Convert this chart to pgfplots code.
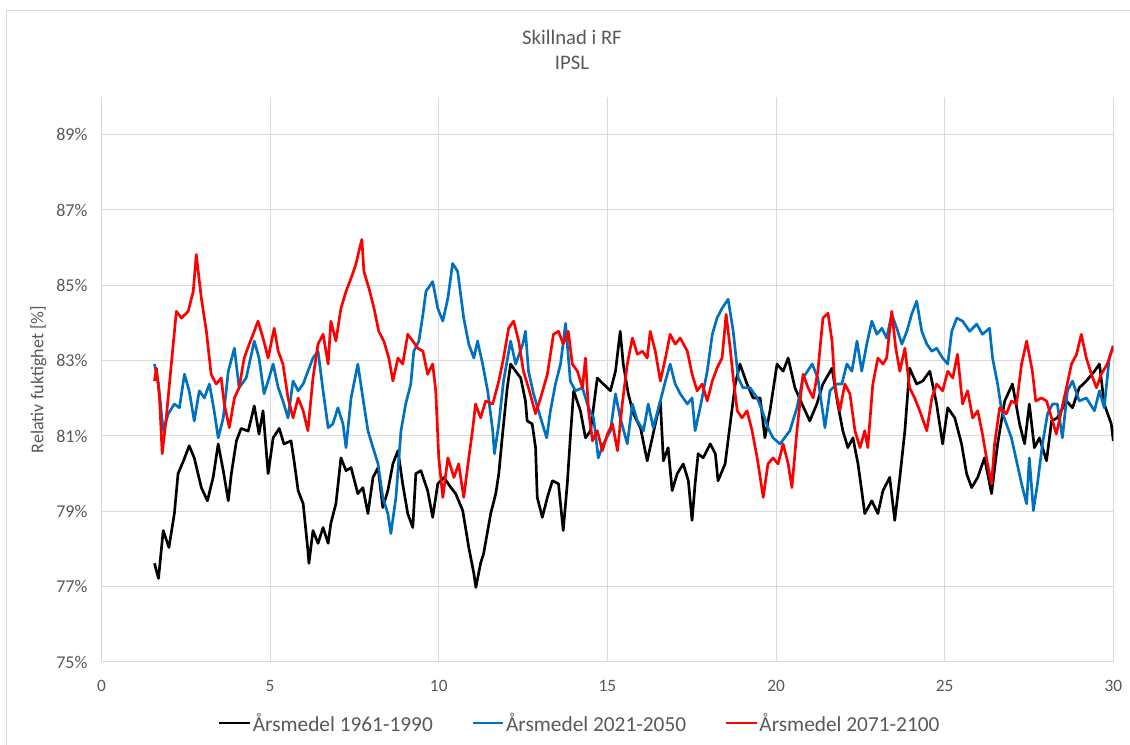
\documentclass[border=0pt]{standalone}
\usepackage{fontspec}
\setmainfont{Carlito}
\usepackage{pgfplots}
\pgfplotsset{compat=1.18}
\definecolor{tickgray}{HTML}{595959}
\definecolor{gridgray}{HTML}{D9D9D9}
\definecolor{xlblue}{HTML}{0070C0}
\definecolor{xlred}{HTML}{FF0000}
\pgfplotstableread{
x y
1.57 77.62
1.69 77.22
1.83 78.49
2.0 78.04
2.16 78.94
2.27 80.0
2.43 80.34
2.6 80.74
2.75 80.42
2.96 79.63
3.14 79.28
3.31 79.9
3.46 80.79
3.61 80.08
3.76 79.28
3.85 80.0
4.0 80.87
4.14 81.2
4.35 81.13
4.53 81.8
4.67 81.05
4.79 81.67
4.94 80.0
5.09 80.95
5.27 81.2
5.41 80.79
5.62 80.87
5.71 80.34
5.83 79.55
5.98 79.2
6.12 77.96
6.15 77.62
6.27 78.49
6.42 78.15
6.57 78.57
6.72 78.15
6.8 78.68
6.95 79.2
7.1 80.42
7.25 80.08
7.4 80.16
7.6 79.47
7.75 79.63
7.9 78.94
8.05 79.9
8.2 80.16
8.34 79.1
8.49 79.55
8.64 80.26
8.79 80.61
8.93 79.73
9.08 78.94
9.23 78.57
9.32 80.0
9.47 80.08
9.67 79.55
9.82 78.84
9.97 79.73
10.15 79.9
10.36 79.63
10.5 79.47
10.71 79.02
10.89 78.04
11.04 77.35
11.1 76.98
11.24 77.62
11.33 77.88
11.54 78.94
11.69 79.47
11.78 80.0
11.88 80.95
12.03 82.28
12.13 82.91
12.28 82.72
12.43 82.54
12.57 81.93
12.62 81.4
12.77 81.32
12.87 80.69
12.92 79.37
13.07 78.84
13.22 79.37
13.37 79.81
13.55 79.73
13.69 78.49
13.81 79.73
13.9 80.95
14.0 82.2
14.2 81.67
14.35 80.95
14.5 81.14
14.7 82.54
14.88 82.38
15.09 82.2
15.24 82.72
15.38 83.78
15.47 82.91
15.62 82.12
15.77 81.59
15.98 81.22
16.18 80.34
16.33 80.95
16.57 81.93
16.66 80.34
16.8 80.69
16.92 79.55
17.07 80.0
17.25 80.26
17.4 79.81
17.51 78.76
17.6 79.73
17.69 80.53
17.84 80.42
18.05 80.79
18.2 80.53
18.28 79.81
18.49 80.26
18.64 81.32
18.79 82.38
18.93 82.91
19.14 82.38
19.32 82.01
19.53 82.01
19.67 80.95
19.82 81.67
20.03 82.91
20.21 82.72
20.36 83.07
20.56 82.28
20.77 81.85
21.0 81.4
21.21 81.85
21.39 82.38
21.66 82.8
21.83 81.85
21.98 81.14
22.13 80.69
22.28 80.95
22.43 80.26
22.54 79.55
22.63 78.94
22.84 79.28
23.02 78.94
23.17 79.55
23.37 79.9
23.52 78.76
23.67 79.9
23.82 81.14
23.96 82.8
24.17 82.38
24.35 82.46
24.56 82.72
24.76 81.85
24.94 80.79
25.09 81.75
25.3 81.48
25.5 80.79
25.65 80.0
25.8 79.63
25.98 79.9
26.18 80.42
26.39 79.47
26.57 80.79
26.78 81.93
27.01 82.38
27.22 81.32
27.37 80.79
27.51 81.85
27.66 80.69
27.81 80.95
28.02 80.34
28.17 81.4
28.34 81.48
28.61 81.93
28.79 81.75
28.99 82.28
29.2 82.46
29.44 82.72
29.59 82.91
29.73 81.85
29.94 81.32
30.0 80.87
}\blackdata
\pgfplotstableread{
x y
1.57 82.91
1.69 82.38
1.83 81.14
1.98 81.59
2.16 81.85
2.31 81.75
2.46 82.64
2.6 82.2
2.75 81.4
2.9 82.2
3.05 82.01
3.2 82.38
3.34 81.67
3.46 80.95
3.61 81.48
3.76 82.72
3.94 83.33
4.08 82.28
4.29 82.54
4.53 83.52
4.67 83.07
4.82 82.12
4.94 82.46
5.09 82.91
5.24 82.28
5.38 81.93
5.53 81.48
5.68 82.46
5.83 82.2
5.98 82.38
6.12 82.72
6.27 83.07
6.42 83.25
6.57 82.2
6.72 81.22
6.86 81.32
7.01 81.75
7.16 81.32
7.25 80.69
7.4 82.01
7.6 82.91
7.75 82.01
7.9 81.14
8.05 80.69
8.2 80.26
8.34 79.37
8.49 78.94
8.58 78.41
8.73 79.37
8.88 81.14
9.02 81.85
9.17 82.38
9.26 83.25
9.41 83.52
9.53 84.23
9.62 84.84
9.82 85.1
9.97 84.39
10.12 84.05
10.27 84.66
10.41 85.58
10.56 85.37
10.74 84.13
10.89 83.44
11.04 83.07
11.15 83.52
11.3 82.91
11.45 82.2
11.6 81.14
11.65 80.53
11.78 81.32
11.92 82.46
12.13 83.52
12.28 82.91
12.49 83.44
12.57 83.78
12.66 82.72
12.81 82.12
13.02 81.48
13.2 80.95
13.31 81.67
13.46 82.38
13.61 82.91
13.76 83.99
13.9 82.46
14.05 82.2
14.26 82.28
14.44 81.75
14.59 81.48
14.73 80.42
14.88 80.79
15.09 81.14
15.24 82.12
15.38 81.48
15.59 80.79
15.74 81.85
15.89 81.4
16.07 81.14
16.21 81.85
16.36 81.22
16.57 81.93
16.72 82.46
16.86 82.91
17.01 82.38
17.16 82.12
17.37 81.85
17.51 82.01
17.6 81.14
17.75 81.75
17.96 82.72
18.11 83.7
18.25 84.13
18.4 84.39
18.58 84.63
18.73 83.78
18.88 82.54
19.02 82.28
19.23 82.28
19.44 82.01
19.59 81.67
19.76 81.22
19.91 80.95
20.12 80.79
20.41 81.14
20.62 81.75
20.8 82.54
21.07 82.91
21.24 82.54
21.45 81.22
21.6 82.2
21.8 82.38
21.95 82.38
22.1 82.91
22.25 82.72
22.4 83.52
22.54 82.72
22.69 83.44
22.84 84.05
22.99 83.7
23.14 83.86
23.28 83.6
23.43 84.23
23.58 83.86
23.73 83.44
23.88 83.78
24.02 84.23
24.17 84.58
24.32 83.78
24.47 83.44
24.62 83.25
24.76 83.33
24.94 83.07
25.09 82.91
25.21 83.78
25.36 84.13
25.53 84.05
25.74 83.78
25.95 83.97
26.12 83.7
26.33 83.86
26.42 83.07
26.57 82.38
26.69 81.67
26.83 81.32
26.98 80.95
27.13 80.34
27.28 79.73
27.43 79.2
27.51 80.42
27.63 79.02
27.75 79.73
27.9 80.79
28.05 81.59
28.2 81.85
28.34 81.85
28.49 80.95
28.64 82.2
28.79 82.46
28.99 81.93
29.2 82.01
29.44 81.67
29.59 82.2
29.73 81.75
29.88 83.07
30.0 83.39
}\bluedata
\pgfplotstableread{
x y
1.57 82.46
1.63 82.8
1.72 82.01
1.8 80.53
1.92 81.48
2.07 82.91
2.22 84.31
2.37 84.13
2.57 84.31
2.72 84.84
2.81 85.82
2.96 84.66
3.11 83.78
3.25 82.64
3.4 82.38
3.55 82.54
3.64 81.85
3.79 81.22
3.94 82.01
4.08 82.28
4.23 83.07
4.38 83.44
4.53 83.78
4.64 84.05
4.79 83.6
4.94 83.07
5.12 83.86
5.24 83.25
5.38 82.91
5.53 82.01
5.68 81.48
5.83 82.01
5.98 81.67
6.12 81.14
6.27 82.54
6.42 83.44
6.57 83.7
6.72 82.91
6.8 84.05
6.95 83.52
7.1 84.39
7.25 84.84
7.4 85.19
7.54 85.55
7.63 85.9
7.72 86.22
7.78 85.37
7.93 84.92
8.08 84.39
8.22 83.78
8.37 83.52
8.52 83.07
8.64 82.46
8.79 83.07
8.93 82.91
9.08 83.7
9.23 83.52
9.38 83.33
9.53 83.25
9.67 82.64
9.82 82.91
9.91 82.2
10.0 80.42
10.12 79.37
10.27 80.42
10.45 79.9
10.59 80.26
10.74 79.37
10.89 80.42
11.0 81.14
11.09 81.85
11.24 81.48
11.39 81.93
11.6 81.85
11.78 82.46
11.92 83.07
12.07 83.86
12.22 84.05
12.37 83.52
12.51 82.72
12.66 82.28
12.87 81.59
13.02 82.01
13.22 82.64
13.4 83.7
13.55 83.78
13.69 83.44
13.84 83.78
13.96 82.91
14.11 82.72
14.26 82.28
14.35 83.07
14.44 81.67
14.56 80.87
14.7 81.14
14.85 80.61
15.0 81.05
15.15 81.32
15.3 80.61
15.44 81.85
15.59 82.91
15.74 83.6
15.89 83.17
16.04 83.25
16.18 83.07
16.27 83.78
16.42 83.25
16.57 82.46
16.72 83.07
16.86 83.7
17.01 83.44
17.16 83.6
17.37 83.25
17.51 82.64
17.66 82.2
17.81 82.38
17.96 81.93
18.11 82.46
18.25 82.8
18.4 83.07
18.52 84.23
18.64 83.33
18.73 82.54
18.85 81.67
18.99 81.48
19.14 81.67
19.29 81.14
19.44 80.42
19.53 79.9
19.62 79.37
19.76 80.26
19.91 80.42
20.06 80.26
20.21 80.79
20.36 80.26
20.47 79.63
20.62 81.14
20.8 82.64
20.95 82.28
21.1 82.01
21.24 82.72
21.39 84.13
21.54 84.26
21.66 83.52
21.75 82.28
21.89 81.67
22.04 82.38
22.19 82.12
22.34 81.14
22.49 80.69
22.63 81.14
22.72 80.69
22.87 82.38
23.02 83.07
23.17 82.91
23.28 83.07
23.43 84.31
23.55 83.33
23.67 82.72
23.82 83.33
23.96 82.28
24.11 82.01
24.26 81.67
24.47 81.14
24.62 82.01
24.76 82.38
24.94 82.2
25.09 82.72
25.24 82.54
25.38 83.17
25.53 81.85
25.68 82.2
25.83 81.48
25.98 81.67
26.12 81.05
26.27 80.26
26.39 79.73
26.48 80.79
26.63 81.75
26.83 81.59
26.98 81.93
27.13 81.85
27.28 82.91
27.43 83.52
27.6 82.72
27.7 81.93
27.87 82.01
28.02 81.93
28.17 81.48
28.31 81.05
28.46 81.67
28.61 82.28
28.76 82.91
28.91 83.17
29.05 83.7
29.2 83.07
29.35 82.64
29.5 82.28
29.64 82.64
29.82 82.91
30.0 83.39
}\reddata
\begin{document}
\begin{tikzpicture}[x=1pt,y=1pt]
\useasboundingbox (0,0) rectangle (847.5,558.75);
\fill[white] (0,0) rectangle (847.5,558.75);
\draw[gridgray, line width=0.75pt] (5,0) -- (5,550.7) -- (847.5,550.7);
\node[anchor=base, text=tickgray, font=\fontsize{15.5}{18}\selectfont] at (429,525) {Skillnad i RF};
\node[anchor=base, text=tickgray, font=\fontsize{15.5}{18}\selectfont] at (429,506.25) {IPSL};
\node[rotate=90, text=tickgray, font=\fontsize{13.5}{16}\selectfont] at (28.9,274.1) {Relativ fuktighet [\%]};
\begin{axis}[
  at={(76.125pt,62.25pt)}, anchor=south west,
  width=758.85pt, height=423.75pt, scale only axis,
  xmin=0, xmax=30, ymin=75, ymax=90,
  xtick={0,5,...,30}, ytick={75,77,...,89},
  grid=major, major grid style={gridgray, line width=0.75pt},
  axis lines*=left,
  x axis line style={gridgray, line width=0.75pt},
  y axis line style={draw=none},
  major tick length=0pt,
  /pgf/number format/assume math mode=true,
  xticklabel style={font=\fontsize{13}{15}\selectfont, text=tickgray, yshift=-10pt},
  yticklabel style={font=\fontsize{13.5}{15}\selectfont, text=tickgray, xshift=-7pt},
  yticklabel={\pgfmathprintnumber{\tick}\%},
  legend columns=3,
  legend cell align=left,
  legend style={at={(axis description cs:0.4724,-0.108)}, anchor=center, draw=none, fill=none,
    font=\fontsize{16}{18}\selectfont, text=tickgray,
    nodes={inner xsep=1pt},
    /tikz/every even column/.append style={column sep=28pt}},
  legend image code/.code={\draw[#1] (0pt,0pt) -- (23pt,0pt);},
  every axis plot/.append style={line width=2pt, line join=round, no markers},
]
\addplot[black] table {\blackdata};
\addlegendentry{Årsmedel 1961-1990}
\addplot[xlblue] table {\bluedata};
\addlegendentry{Årsmedel 2021-2050}
\addplot[xlred] table {\reddata};
\addlegendentry{Årsmedel 2071-2100}
\end{axis}
\end{tikzpicture}
\end{document}
